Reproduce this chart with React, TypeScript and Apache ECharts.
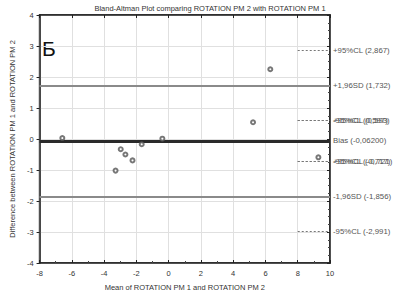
import React, { useEffect, useRef } from "react";
import * as echarts from "echarts";

const meanValues = [-6.59, -2.97, -2.68, -2.24, -3.29, -1.67, -0.39, 5.23, 6.3, 9.28];
const diffValues = [0.03, -0.33, -0.5, -0.69, -1.02, -0.17, 0.01, 0.54, 2.25, -0.59];

// full-width lines
const fullLineValues = [1.732, -0.062, -1.856];
const fullLineLabels = ["+1,96SD (1,732)", "Bias (-0,06200)", "-1,96SD (-1,856)"];
const fullLineKinds = ["loa", "bias", "loa"];

// short dashed confidence-limit lines
const clValues = [2.867, 0.597, 0.593, -0.717, -0.721, -2.991];
const clLabels = ["+95%CL (2,867)", "-95%CL (0,597)", "+95%CL (0,593)", "-95%CL (-0,717)", "+95%CL (-0,721)", "-95%CL (-2,991)"];
const clStart = 8;

const xTicks = { min: -8, max: 10, interval: 2 };
const yTicks = { min: -4, max: 4, interval: 1 };

const FONT = "Liberation Sans";

export default function App() {
  const ref = useRef<HTMLDivElement>(null);
  useEffect(() => {
    const chart = echarts.init(ref.current!, null, { renderer: "svg" });
    const labelStyle = { color: "#555", fontSize: 7.8, fontFamily: FONT, position: "end", distance: 3 };
    const fullData = fullLineValues.map((v, i) => [
      {
        coord: [xTicks.min, v],
        lineStyle:
          fullLineKinds[i] === "bias"
            ? { color: "#2a2a2a", width: 3, type: "solid" }
            : { color: "#8a8a8a", width: 2, type: "solid" },
        label: { ...labelStyle, formatter: fullLineLabels[i] },
      },
      { coord: [xTicks.max, v] },
    ]);
    const clData = clValues.map((v, i) => [
      {
        coord: [clStart, v],
        lineStyle: { color: "#777", width: 1.2, type: [2, 2] },
        label: { ...labelStyle, formatter: clLabels[i] },
      },
      { coord: [xTicks.max, v] },
    ]);
    const axisLine = { show: true, onZero: false, lineStyle: { color: "#222", width: 1.5 } };
    chart.setOption({
      animation: false,
      title: {
        text: "Bland-Altman Plot comparing ROTATION PM 2 with ROTATION PM 1",
        left: 205,
        textAlign: "center",
        top: -1,
        textStyle: { fontSize: 7.5, fontWeight: "normal", color: "#333", fontFamily: FONT },
      },
      grid: { left: 27, right: 75, top: 15, bottom: 31, show: true, borderColor: "#222", borderWidth: 1.5, backgroundColor: "#fff" },
      xAxis: [
        {
          type: "value",
          min: xTicks.min,
          max: xTicks.max,
          interval: xTicks.interval,
          name: "Mean of ROTATION PM 1 and ROTATION PM 2",
          nameLocation: "middle",
          nameGap: 20,
          nameTextStyle: { fontSize: 7.5, color: "#333", fontFamily: FONT },
          axisLine,
          axisTick: { show: true, inside: true, length: 3, lineStyle: { color: "#222" } },
          minorTick: { show: true, splitNumber: 2, length: 2, lineStyle: { color: "#444" } },
          axisLabel: { fontSize: 7.5, color: "#333", fontFamily: FONT, margin: 6 },
          splitLine: { show: true, lineStyle: { color: "#e0e0e0", width: 1 } },
        },
        {
          type: "value",
          position: "top",
          min: xTicks.min,
          max: xTicks.max,
          interval: xTicks.interval,
          axisLine,
          axisTick: { show: true, inside: true, length: 3, lineStyle: { color: "#222" } },
          axisLabel: { show: false },
          splitLine: { show: false },
        },
      ],
      yAxis: [
        {
          type: "value",
          min: yTicks.min,
          max: yTicks.max,
          interval: yTicks.interval,
          name: "Difference between ROTATION PM 1 and ROTATION PM 2",
          nameLocation: "middle",
          nameGap: 17,
          nameTextStyle: { fontSize: 7.5, color: "#333", fontFamily: FONT },
          axisLine,
          axisTick: { show: true, inside: false, length: 3, lineStyle: { color: "#222" } },
          axisLabel: { fontSize: 7.5, color: "#333", fontFamily: FONT, margin: 6 },
          splitLine: { show: true, lineStyle: { color: "#e0e0e0", width: 1 } },
        },
        {
          type: "value",
          position: "right",
          min: yTicks.min,
          max: yTicks.max,
          interval: yTicks.interval,
          axisLine,
          axisTick: { show: true, inside: true, length: 3, lineStyle: { color: "#222" } },
          minorTick: { show: true, splitNumber: 4, length: 2, lineStyle: { color: "#444" } },
          axisLabel: { show: false },
          splitLine: { show: false },
        },
      ],
      graphic: [
        {
          type: "text",
          left: 42,
          top: 38,
          style: { text: "Б", fontSize: 21, fill: "#111", fontFamily: FONT },
        },
      ],
      series: [
        {
          type: "scatter",
          data: meanValues.map((m, i) => [m, diffValues[i]]),
          symbol: "emptyCircle",
          symbolSize: 4,
          itemStyle: { color: "#555", borderColor: "#555", borderWidth: 1 },
          z: 5,
          markLine: {
            silent: true,
            symbol: ["none", "none"],
            data: [...fullData, ...clData],
          },
        },
      ],
    });
    return () => chart.dispose();
  }, []);
  return <div ref={ref} style={{ position: "absolute", left: 0, top: 0, width: 405, height: 296 }} />;
}
